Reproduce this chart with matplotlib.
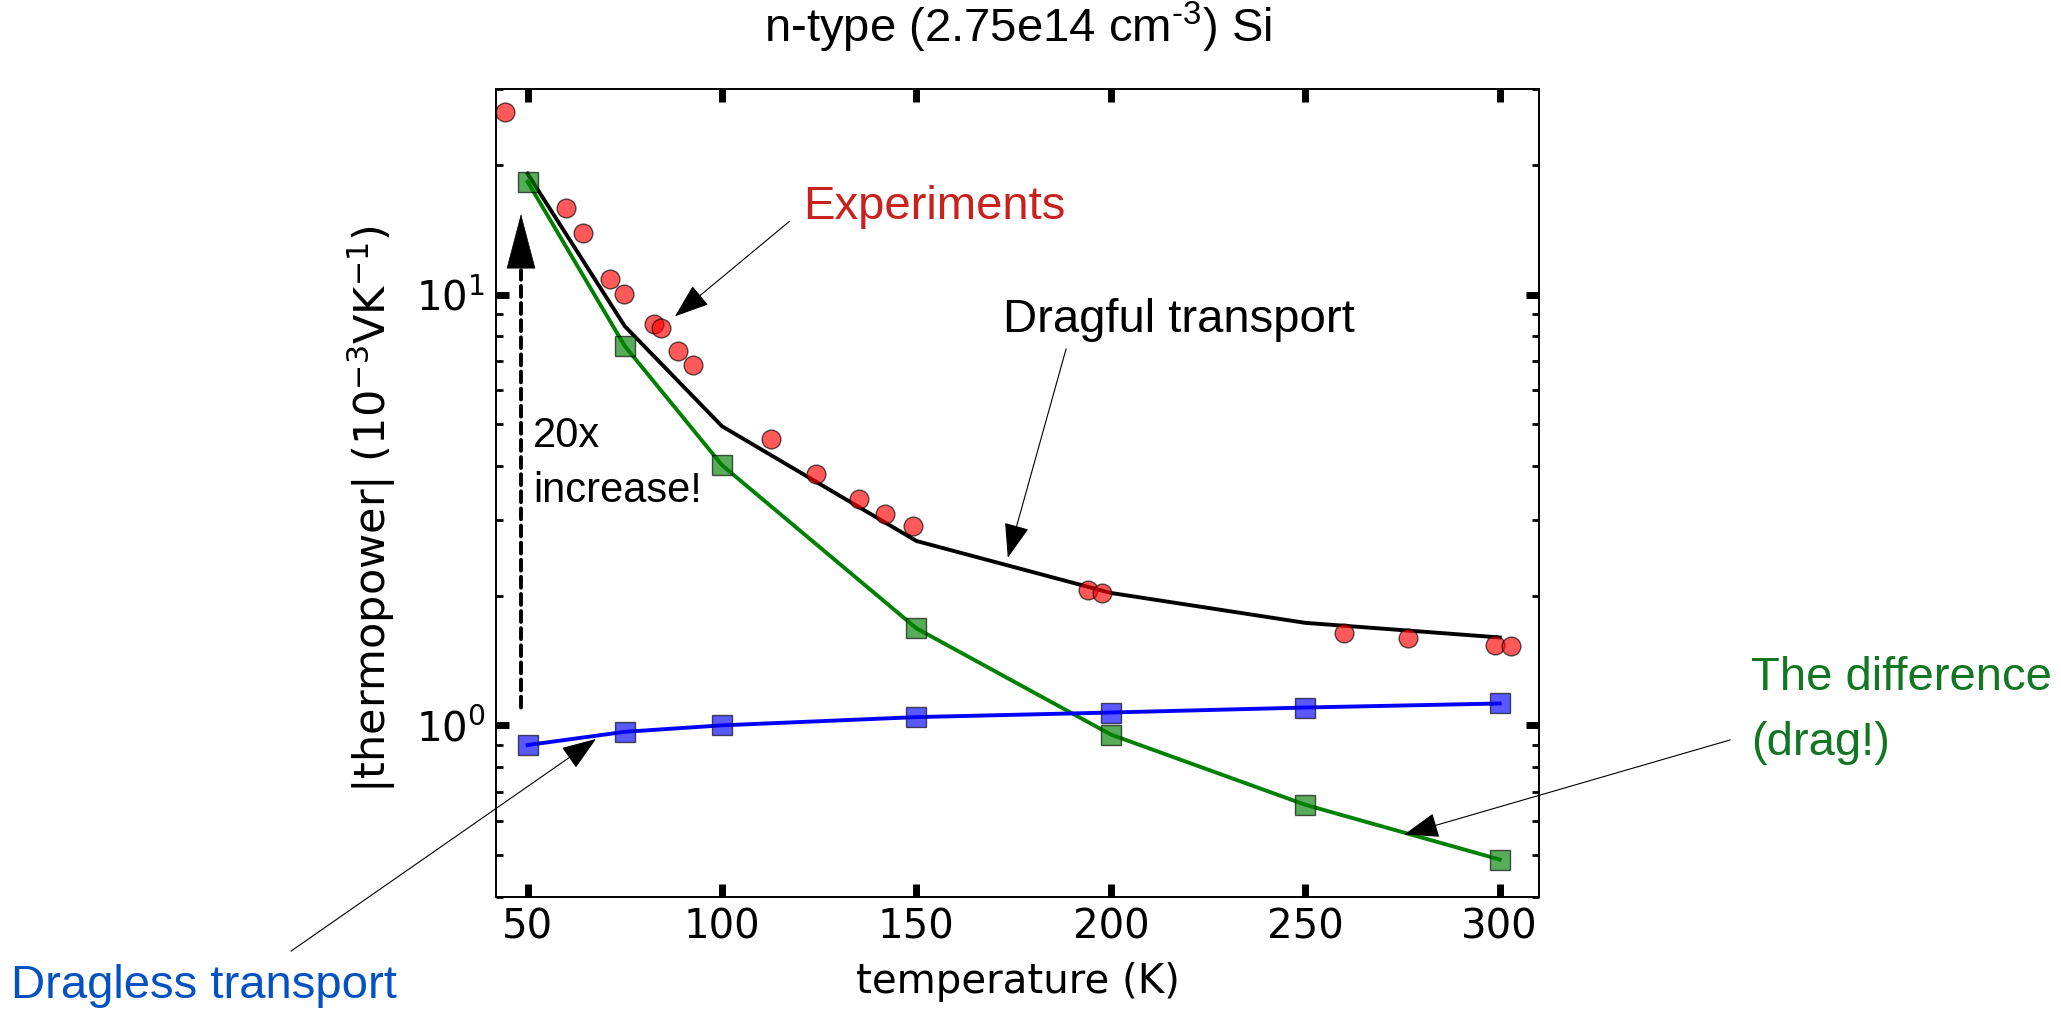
import matplotlib
matplotlib.use("Agg")
import matplotlib.pyplot as plt
from matplotlib.ticker import NullLocator

# Termopotencia calculada, Si tipo n (2.75e14 cm^-3), en 1e-3 V/K
temperaturas = [50, 75, 100, 150, 200, 250, 300]
dragful = [19.1, 8.45, 4.95, 2.68, 2.03, 1.73, 1.60]
dragless = [0.90, 0.966, 1.00, 1.045, 1.071, 1.10, 1.124]
drag = [18.3, 7.6, 4.02, 1.68, 0.952, 0.654, 0.488]

# Mediciones experimentales
t_exp = [44.3, 60.0, 64.3, 71.3, 74.9, 82.6, 84.2, 88.8, 92.6, 112.7,
         124.3, 135.3, 141.9, 149.0, 194.1, 197.7, 259.9, 276.5, 298.9, 302.8]
s_exp = [26.6, 15.9, 13.9, 10.87, 10.05, 8.56, 8.36, 7.42, 6.85, 4.62,
         3.84, 3.36, 3.10, 2.90, 2.063, 2.03, 1.635, 1.598, 1.537, 1.531]

x_ticks = [50, 100, 150, 200, 250, 300]

fuente = "Liberation Sans"

fig = plt.figure(figsize=(20.61, 10.09), dpi=100)
ax = fig.add_axes([0.2409, 0.1113, 0.5056, 0.8002])

# Curvas calculadas
ax.plot(temperaturas, dragful, color="k", lw=2.8)
ax.plot(temperaturas, drag, color="g", lw=2.8)
ax.plot(temperaturas, dragless, color="b", lw=2.8)
ax.plot(temperaturas, drag, "s", color="g", ms=14, alpha=0.65, mec="k", mew=1)
ax.plot(temperaturas, dragless, "s", color="b", ms=14, alpha=0.65, mec="k", mew=1)

# Puntos experimentales
ax.plot(t_exp, s_exp, "o", color="r", ms=13.5, alpha=0.65, mec="k", mew=1)

# Ejes
ax.set_yscale("log")
ax.set_xlim(42, 310)
ax.set_ylim(0.4, 30)
ax.set_xticks(x_ticks)
ax.xaxis.set_minor_locator(NullLocator())
ax.tick_params(which="both", direction="in", top=True, right=True, labelsize=29)
ax.tick_params(which="major", length=9.5, width=5, pad=8)
ax.tick_params(which="minor", length=5, width=2)
for lado in ax.spines.values():
    lado.set_linewidth(1.4)

ax.set_xlabel("temperature (K)", fontsize=29, labelpad=10)
ax.set_ylabel(r"|thermopower| $(10^{-3}\mathrm{VK}^{-1})$", fontsize=31, labelpad=13)
ax.yaxis.label.set_y(0.48)
ax.set_title("n-type (2.75e14 cm$^{\\mathregular{\u20103}}$) Si", family=fuente, fontsize=34, pad=34)


# Flecha con cabeza triangular negra
def flecha(punta, origen, largo=1.1, ancho=0.4, grosor=0.8):
    ax.annotate("", xy=punta, xytext=origen, annotation_clip=False,
                arrowprops=dict(arrowstyle=f"-|>,head_length={largo},head_width={ancho}",
                                color="k", lw=grosor, mutation_scale=20,
                                shrinkA=0, shrinkB=0))


# Aumento de 20x por el arrastre: tramo punteado y cabeza solida
ax.annotate("", xy=(48.3, 11.4), xytext=(48.3, 1.1),
            arrowprops=dict(arrowstyle="-", color="k", lw=2.8, ls=(0, (2.8, 1.6)),
                            shrinkA=0, shrinkB=0))
flecha((48.3, 15.4), (48.3, 11.2), largo=1.9, ancho=0.5, grosor=0.5)
ax.text(51.4, 3.30, "20x\nincrease!", fontsize=30, family=fuente, va="baseline", linespacing=1.5)

# Etiquetas de cada curva
ax.text(120.8, 15.02, "Experiments", color="#c9211e", fontsize=34, family=fuente, va="baseline")
flecha((87.9, 8.91), (117.4, 14.82))

ax.text(172.3, 8.19, "Dragful transport", color="k", fontsize=34, family=fuente, va="baseline")
flecha((173.5, 2.45), (188.5, 7.49))

ax.text(364.7, 0.855, "The difference\n(drag!)", color="#127622", fontsize=34, family=fuente,
        va="baseline", linespacing=1.6)
flecha((275.5, 0.558), (359.3, 0.925))

ax.text(-82.9, 0.2325, "Dragless transport", color="#0452c2", fontsize=34, family=fuente, va="baseline")
flecha((67.6, 0.93), (-10.85, 0.299))

fig.savefig("out.png", dpi=100)
